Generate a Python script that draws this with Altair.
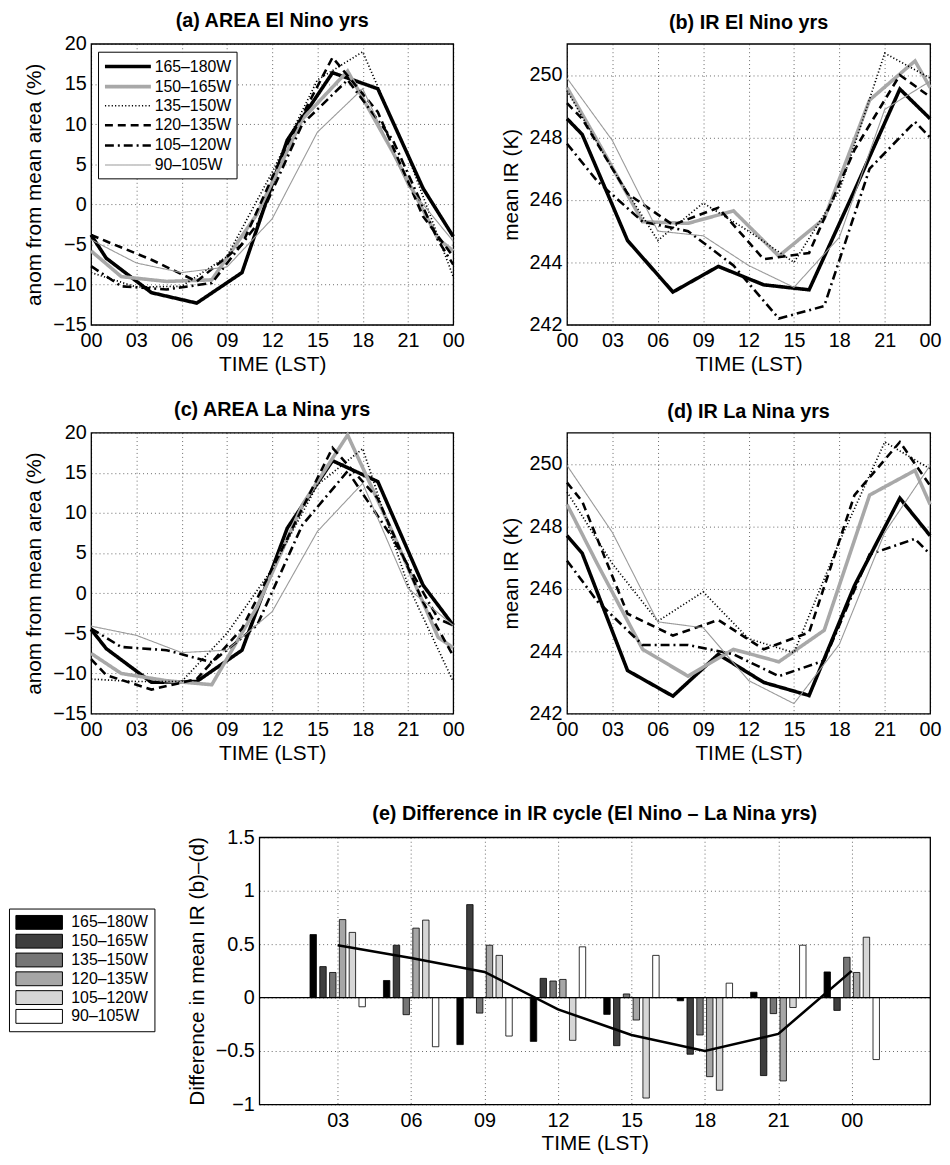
import altair as alt
import pandas as pd

FONT = "Liberation Sans"

SERIES = ["165–180W", "150–165W", "135–150W", "120–135W", "105–120W", "90–105W"]
# local hour of the first 3-hourly sample of each longitude band
OFFSETS = [1, 2, 0, 1, 2, 0]

# ---------- (a) AREA El Nino yrs ----------
A_165 = [-3.8, -6.7, -11.0, -12.3, -8.5, 8.0, 16.4, 14.4, 2.0, -4.0]
A_150 = [-5.8, -9.0, -9.6, -9.4, -1.2, 10.6, 16.6, 6.5, -4.3, -5.8]
A_135 = [-8.5, -10.3, -10.2, -6.5, 4.0, 15.5, 19.0, 6.0, -9.0]
A_120 = [-3.8, -4.6, -6.9, -9.6, -5.0, 7.5, 18.3, 11.5, -1.5, -6.5]
A_105 = [-7.7, -10.2, -10.6, -9.8, -2.5, 10.0, 15.5, 8.0, -4.5, -7.5]
A_90 = [-4.4, -7.3, -8.5, -7.8, -1.8, 9.0, 14.4, 2.3, -4.6]

# ---------- (b) IR El Nino yrs ----------
B_165 = [248.6, 248.1, 244.7, 243.05, 243.87, 243.28, 243.12, 246.3, 249.55, 248.6]
B_150 = [249.6, 247.9, 245.3, 245.25, 245.65, 244.2, 245.4, 249.2, 250.45, 249.6]
B_135 = [249.5, 247.0, 244.7, 245.9, 245.0, 244.0, 246.3, 250.7, 249.9]
B_120 = [249.1, 248.6, 246.2, 245.2, 245.75, 244.1, 244.3, 247.6, 250.0, 249.3]
B_105 = [247.8, 246.6, 245.3, 245.0, 243.9, 242.2, 242.6, 247.0, 248.5, 248.0]
B_90 = [249.9, 247.9, 245.0, 244.85, 243.9, 243.2, 244.8, 248.9, 249.8]

# ---------- (c) AREA La Nina yrs ----------
C_165 = [-4.5, -6.9, -11.1, -11.0, -7.1, 8.1, 16.5, 13.9, 1.0, -4.0]
C_150 = [-7.5, -10.0, -10.9, -11.4, -1.7, 11.0, 19.7, 7.5, -5.5, -6.8]
C_135 = [-10.7, -11.0, -11.0, -5.0, 3.0, 13.5, 18.0, 1.0, -11.0]
C_120 = [-8.2, -10.2, -12.0, -10.7, -4.4, 6.8, 18.1, 11.8, -1.1, -7.8]
C_105 = [-4.4, -6.7, -7.1, -8.6, -4.0, 8.5, 15.2, 6.8, -3.2, -4.0]
C_90 = [-4.1, -5.25, -7.4, -7.1, -2.3, 7.7, 13.7, 0.6, -4.0]

# ---------- (d) IR La Nina yrs ----------
D_165 = [247.7, 247.14, 243.38, 242.56, 243.9, 243.0, 242.58, 246.1, 248.9, 247.7]
D_150 = [248.7, 246.8, 244.06, 243.2, 244.06, 243.66, 244.67, 249.0, 249.79, 248.7]
D_135 = [249.1, 246.8, 244.96, 245.9, 244.4, 243.95, 247.5, 250.7, 249.84]
D_120 = [249.4, 248.8, 245.2, 244.5, 245.0, 244.06, 244.6, 249.0, 250.7, 249.3]
D_105 = [246.9, 245.6, 244.2, 244.2, 243.9, 243.2, 243.7, 247.1, 247.6, 247.1]
D_90 = [249.95, 247.8, 244.94, 244.75, 243.06, 242.32, 244.22, 247.8, 249.95]

# ---------- (e) Difference (b)-(d) ----------
E_GROUPS = [3, 6, 9, 12, 15, 18, 21, 24]
E_165 = [0.59, 0.16, -0.44, -0.41, -0.157, -0.03, 0.05, 0.24]
E_150 = [0.29, 0.49, 0.87, 0.18, -0.45, -0.53, -0.73, -0.12]
E_135 = [0.235, -0.16, -0.145, 0.155, 0.034, -0.35, -0.15, 0.377]
E_120 = [0.73, 0.65, 0.49, 0.17, -0.21, -0.74, -0.78, 0.235]
E_105 = [0.61, 0.725, 0.395, -0.40, -0.94, -0.867, -0.093, 0.565]
E_90 = [-0.086, -0.46, -0.36, 0.475, 0.395, 0.135, 0.49, -0.58]
E_MEAN = [0.49, 0.37, 0.24, -0.11, -0.35, -0.50, -0.34, 0.25]

HOUR_TICKS = [0, 3, 6, 9, 12, 15, 18, 21, 24]
AREA_TICKS = [-15, -10, -5, 0, 5, 10, 15, 20]
IR_TICKS = [242, 244, 246, 248, 250]
DIFF_TICKS = [-1, -0.5, 0, 0.5, 1, 1.5]

# styles
LINE_COLORS = ["#000000", "#a8a8a8", "#000000", "#000000", "#000000", "#9a9a9a"]
LINE_DASH = [[1, 0], [1, 0], [1.2, 2.2], [8, 5], [9, 4, 2, 4], [1, 0]]
LINE_WIDTHS = [3.6, 3.6, 1.7, 2.6, 2.6, 1.1]
BAR_FILLS = ["#000000", "#3e3e3e", "#767676", "#a6a6a6", "#d6d6d6", "#ffffff"]

HOUR_LABEL = "(datum.value % 24 < 10 ? '0' : '') + (datum.value % 24)"


def hours_for(off):
    return [0] + [off + 3 * k for k in range(8) if 0 < off + 3 * k < 24] + [24]


def panel_df(series_values):
    rows = []
    for s, off, vals in zip(SERIES, OFFSETS, series_values):
        for h, v in zip(hours_for(off), vals):
            rows.append({"series": s, "hour": h, "value": v})
    return pd.DataFrame(rows)


def panel_title(text, offset):
    return alt.TitleParams(text, frame="group", offset=offset)


def line_panel(df, title, toffset, ytitle, ydomain, yticks, width, legend):
    return alt.Chart(df, title=panel_title(title, toffset)).mark_line(
        strokeCap="butt", strokeJoin="miter"
    ).encode(
        x=alt.X("hour:Q",
                scale=alt.Scale(domain=[0, 24], nice=False, zero=False),
                axis=alt.Axis(values=HOUR_TICKS, labelExpr=HOUR_LABEL, title="TIME (LST)",
                              labelPadding=6, titlePadding=3)),
        y=alt.Y("value:Q",
                scale=alt.Scale(domain=ydomain, nice=False, zero=False),
                axis=alt.Axis(values=yticks, title=ytitle, titlePadding=8)),
        color=alt.Color("series:N", scale=alt.Scale(domain=SERIES, range=LINE_COLORS), legend=legend),
        strokeDash=alt.StrokeDash("series:N", scale=alt.Scale(domain=SERIES, range=LINE_DASH), legend=legend),
        strokeWidth=alt.StrokeWidth("series:N",
                                    scale=alt.Scale(type="ordinal", domain=SERIES, range=LINE_WIDTHS),
                                    legend=legend),
    ).properties(width=width, height=284)


# line legend: symbol path is 2.9x the nominal symbol diameter (16px) -> ~46px long
line_legend = alt.Legend(
    orient="none", legendX=7, legendY=8, title=None,
    symbolType="M-2.9,0L2.9,0", symbolSize=256, symbolOffset=15.2, labelOffset=17,
    labelFontSize=16, labelFont=FONT, labelColor="black", strokeColor="black",
    fillColor="white", padding=5, rowPadding=2.3,
)

df_a = panel_df([A_165, A_150, A_135, A_120, A_105, A_90])
df_b = panel_df([B_165, B_150, B_135, B_120, B_105, B_90])
df_c = panel_df([C_165, C_150, C_135, C_120, C_105, C_90])
df_d = panel_df([D_165, D_150, D_135, D_120, D_105, D_90])

pa = line_panel(df_a, "(a) AREA El Nino yrs", 3, "anom from mean area (%)", [-15, 20], AREA_TICKS, 366, line_legend)
pb = line_panel(df_b, "(b) IR El Nino yrs", 11, "mean IR (K)", [242, 251], IR_TICKS, 367, None)
pc = line_panel(df_c, "(c) AREA La Nina yrs", 3, "anom from mean area (%)", [-15, 20], AREA_TICKS, 366, None)
pdd = line_panel(df_d, "(d) IR La Nina yrs", 11, "mean IR (K)", [242, 251], IR_TICKS, 367, None)

grid = alt.concat(
    pa, pb, pc, pdd, columns=2, spacing={"row": 109, "column": 115}, bounds="flush", align="each"
).resolve_scale(color="independent", strokeDash="independent", strokeWidth="independent")

# ---- bar panel ----
bar_rows = []
for i, (s, vals) in enumerate(zip(SERIES, [E_165, E_150, E_135, E_120, E_105, E_90])):
    for g, v in zip(E_GROUPS, vals):
        bar_rows.append({"series": s, "group": g, "pos": g + (i - 2.5) * 0.4, "diff": v})
bar_df = pd.DataFrame(bar_rows)
mean_df = pd.DataFrame({"hour": E_GROUPS, "diff": E_MEAN})

x_e = dict(scale=alt.Scale(domain=[0, 27], nice=False, zero=False),
           axis=alt.Axis(values=E_GROUPS, labelExpr=HOUR_LABEL, title="TIME (LST)",
                         labelPadding=6, titlePadding=3))
y_e = dict(scale=alt.Scale(domain=[-1, 1.5], nice=False, zero=False),
           axis=alt.Axis(values=DIFF_TICKS, labelExpr="format(datum.value, '~g')",
                         title="Difference in mean IR (b)–(d)", titlePadding=8))

# bar legend: 47x14 rectangles (path 3.36x the nominal 14px diameter)
bar_legend = alt.Legend(
    orient="none", legendX=-253, legendY=72, title=None,
    symbolType="M-3.36,-1L3.36,-1L3.36,1L-3.36,1Z", symbolSize=196,
    symbolOffset=16.5, labelOffset=24.5,
    symbolStrokeColor="black", symbolStrokeWidth=1,
    labelFontSize=16, labelFont=FONT, labelColor="black", strokeColor="black",
    fillColor="white", padding=6, rowPadding=1,
)

bars = alt.Chart(bar_df).mark_bar(width=6.5, stroke="black", strokeWidth=0.8).encode(
    x=alt.X("pos:Q", **x_e),
    y=alt.Y("diff:Q", **y_e),
    fill=alt.Fill("series:N", scale=alt.Scale(domain=SERIES, range=BAR_FILLS), legend=bar_legend),
)
zero = alt.Chart(pd.DataFrame({"z": [0]})).mark_rule(color="black", strokeWidth=1.3).encode(
    y=alt.Y("z:Q", **y_e)
)
mean_line = alt.Chart(mean_df).mark_line(color="black", strokeWidth=2.6).encode(
    x=alt.X("hour:Q", **x_e),
    y=alt.Y("diff:Q", **y_e),
)
pe = alt.layer(bars, zero, mean_line).properties(
    width=678, height=270,
    title=panel_title("(e) Difference in IR cycle (El Nino – La Nina yrs)", 3),
)

# invisible spacer that shifts panel (e) to the right of the left column
spacer = alt.Chart(pd.DataFrame({"v": [0]})).mark_point(opacity=0).encode(
    x=alt.X("v:Q", axis=None), y=alt.Y("v:Q", axis=None)
).properties(width=170, height=10, view=alt.ViewBackground(stroke="transparent"))

row3 = alt.hconcat(spacer, pe, spacing=0, bounds="flush").resolve_scale(fill="independent")

chart = alt.vconcat(grid, row3, spacing=40).resolve_scale(
    color="independent", strokeDash="independent", strokeWidth="independent", fill="independent"
).properties(
    padding={"left": -1, "top": -4, "right": 0, "bottom": 2}
).configure(
    font=FONT
).configure_view(
    stroke="black", strokeWidth=1.3
).configure_axis(
    labelFont=FONT, titleFont=FONT, labelFontSize=20, titleFontSize=21,
    titleFontWeight="normal", labelColor="black", titleColor="black",
    ticks=False, domain=False, grid=True, gridColor="black", gridDash=[1, 3],
    gridOpacity=0.75, gridWidth=0.8, labelFlush=False, labelOverlap=False,
    labelPadding=5,
).configure_title(
    font=FONT, fontSize=20, fontWeight="bold", color="black", anchor="middle"
)

chart.save("out.html", embed_options={"renderer": "svg", "actions": False})
